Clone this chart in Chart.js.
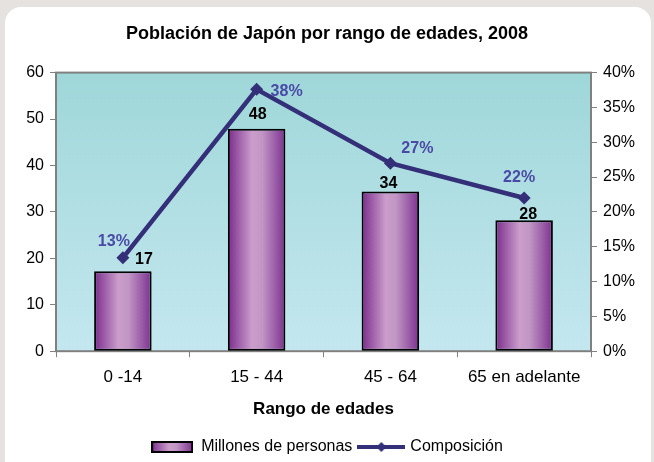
<!DOCTYPE html>
<html>
<head>
<meta charset="utf-8">
<script src="https://cdn.jsdelivr.net/npm/chart.js@4"></script>
<style>
  html, body { margin: 0; padding: 0; }
  body { width: 654px; height: 462px; background: #e6e2e0; overflow: hidden; position: relative; }
  .card { position: absolute; left: 5px; top: 7px; width: 646px; height: 470px; background: #fff; border-radius: 16px; }
  #chart { position: absolute; left: 0; top: 0; }
</style>
</head>
<body>
<div class="card"></div>
<canvas id="chart" width="654" height="462"></canvas>
<script>
// datos
const categories = ['0 -14', '15 - 44', '45 - 64', '65 en adelante'];
const millones = [17.2, 47.9, 34.4, 28.2];      // millones de personas
const composicion = [13.4, 37.6, 27.0, 22.0];   // % del total

const FONT = '"Liberation Sans", Arial, sans-serif';
const LINE_COLOR = '#332f78';
const BAR_PCT = 0.43;

const barGradient = (ctx, x0, x1) => {
  const g = ctx.createLinearGradient(x0, 0, x1, 0);
  g.addColorStop(0, '#7a2c8c');
  g.addColorStop(0.42, '#cb9dcb');
  g.addColorStop(0.6, '#c195c4');
  g.addColorStop(1, '#7c3190');
  return g;
};

const barFill = (context) => {
  const chart = context.chart;
  const x = chart.scales.x;
  if (!x || context.dataIndex === undefined) return '#b07ab8';
  const cx = x.getPixelForValue(context.dataIndex);
  const w = (x.width / categories.length) * BAR_PCT;
  return barGradient(chart.ctx, cx - w / 2, cx + w / 2);
};

// legend swatches
const barSwatch = document.createElement('canvas');
barSwatch.width = 42; barSwatch.height = 12;
(() => {
  const c = barSwatch.getContext('2d');
  c.fillStyle = barGradient(c, 0, 42);
  c.fillRect(1, 1, 40, 10);
  c.lineWidth = 2;
  c.strokeStyle = '#000';
  c.strokeRect(1, 1, 40, 10);
})();
const lineSwatch = document.createElement('canvas');
lineSwatch.width = 48; lineSwatch.height = 12;
(() => {
  const c = lineSwatch.getContext('2d');
  c.strokeStyle = LINE_COLOR;
  c.lineWidth = 4;
  c.beginPath(); c.moveTo(0, 6); c.lineTo(48, 6); c.stroke();
  c.fillStyle = LINE_COLOR;
  c.beginPath(); c.moveTo(24, 1); c.lineTo(29, 6); c.lineTo(24, 11); c.lineTo(19, 6); c.closePath(); c.fill();
})();

const plotBackground = {
  id: 'plotBackground',
  beforeDatasetsDraw(chart) {
    const { ctx, chartArea: a } = chart;
    ctx.save();
    const g = ctx.createLinearGradient(0, a.top, 0, a.bottom);
    g.addColorStop(0, '#9fd7d9');
    g.addColorStop(1, '#c4e7ef');
    ctx.fillStyle = g;
    ctx.fillRect(a.left, a.top, a.right - a.left, a.bottom - a.top);
    ctx.strokeStyle = '#808080';
    ctx.lineWidth = 2;
    ctx.strokeRect(a.left, a.top, a.right - a.left, a.bottom - a.top);
    ctx.restore();
  }
};

const valueLabels = {
  id: 'valueLabels',
  afterDatasetsDraw(chart) {
    const ctx = chart.ctx;
    ctx.save();
    ctx.font = 'bold 16px ' + FONT;
    ctx.textAlign = 'center';
    ctx.textBaseline = 'middle';
    const barOff = [[21, -12], [1, -14], [-2, -8], [4, -6]];
    const pctOff = [[-9, -16], [30, 2], [27, -15], [-5, -20]];
    const bars = chart.getDatasetMeta(1).data;
    ctx.fillStyle = '#000';
    bars.forEach((el, i) => {
      ctx.fillText(Math.round(millones[i]), el.x + barOff[i][0], el.y + barOff[i][1]);
    });
    const pts = chart.getDatasetMeta(0).data;
    ctx.fillStyle = '#4b49a6';
    pts.forEach((el, i) => {
      ctx.fillText(Math.round(composicion[i]) + '%', el.x + pctOff[i][0], el.y + pctOff[i][1]);
    });
    ctx.restore();
  }
};

new Chart(document.getElementById('chart'), {
  data: {
    labels: categories,
    datasets: [
      {
        type: 'line',
        label: 'Composición',
        data: composicion,
        yAxisID: 'y1',
        borderColor: LINE_COLOR,
        backgroundColor: LINE_COLOR,
        borderWidth: 4.5,
        pointStyle: 'rectRot',
        pointRadius: 6.5,
        pointBorderWidth: 0,
        tension: 0,
      },
      {
        type: 'bar',
        label: 'Millones de personas',
        data: millones,
        yAxisID: 'y',
        backgroundColor: barFill,
        borderColor: '#000',
        borderWidth: 2,
        borderSkipped: false,
        barPercentage: BAR_PCT,
        categoryPercentage: 1,
      },
    ],
  },
  options: {
    responsive: false,
    animation: false,
    layout: { padding: { left: 10, right: 10, top: 0, bottom: -3 } },
    plugins: {
      tooltip: { enabled: false },
      title: {
        display: true,
        text: 'Población de Japón por rango de edades, 2008',
        color: '#000',
        font: { family: FONT, size: 18, weight: 'bold' },
        padding: { top: 23, bottom: 28 },
      },
      legend: {
        position: 'bottom',
        labels: {
          usePointStyle: true,
          pointStyleWidth: 42,
          padding: 8,
          color: '#000',
          font: { family: FONT, size: 16 },
          generateLabels: () => [
            { text: 'Millones de personas', pointStyle: barSwatch, fillStyle: 'transparent', strokeStyle: 'transparent', lineWidth: 0, datasetIndex: 1 },
            { text: 'Composición', pointStyle: lineSwatch, fillStyle: 'transparent', strokeStyle: 'transparent', lineWidth: 0, datasetIndex: 0 },
          ],
        },
      },
    },
    scales: {
      x: {
        offset: true,
        grid: { offset: true, drawOnChartArea: false, color: '#808080', tickLength: 6 },
        border: { color: '#808080', width: 2 },
        ticks: { color: '#000', font: { family: FONT, size: 17 }, padding: 10, maxRotation: 0 },
        title: {
          display: true,
          text: 'Rango de edades',
          color: '#000',
          font: { family: FONT, size: 17, weight: 'bold' },
          padding: { top: 2, bottom: 11 },
        },
      },
      y: {
        position: 'left',
        min: 0, max: 60,
        ticks: { stepSize: 10, color: '#000', font: { family: FONT, size: 16 }, padding: 6 },
        grid: { drawOnChartArea: false, color: '#808080', tickLength: 6 },
        border: { color: '#808080', width: 2 },
        afterFit: (s) => { s.width = 46; },
      },
      y1: {
        position: 'right',
        min: 0, max: 40,
        ticks: { stepSize: 5, color: '#000', font: { family: FONT, size: 16 }, padding: 6, callback: (v) => v + '%' },
        grid: { drawOnChartArea: false, color: '#808080', tickLength: 6 },
        border: { color: '#808080', width: 2 },
        afterFit: (s) => { s.width = 53; },
      },
    },
  },
  plugins: [plotBackground, valueLabels],
});
</script>
</body>
</html>
